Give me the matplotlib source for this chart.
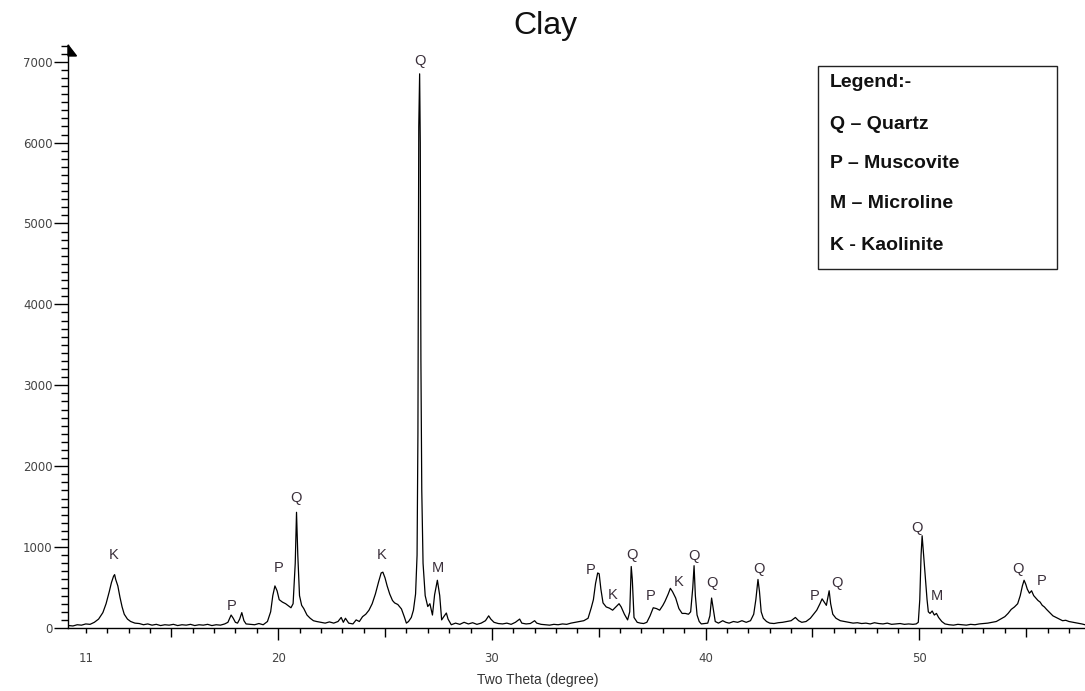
import numpy as np
import matplotlib
matplotlib.use("Agg")
import matplotlib.pyplot as plt
from matplotlib.patches import Rectangle, Polygon
from matplotlib.transforms import blended_transform_factory

plt.rcParams['font.family'] = ['Liberation Sans', 'DejaVu Sans']

# XRD pattern: 2-theta (deg), counts
two_theta = [
    10.2, 10.4, 10.6, 10.8, 11.0, 11.2, 11.4, 11.6, 11.8, 11.95, 12.1, 12.2, 12.3, 12.35, 12.4,
    12.5, 12.6, 12.7, 12.8, 12.95, 13.1, 13.3, 13.5, 13.7, 13.9, 14.1, 14.3, 14.5, 14.7, 14.9,
    15.1, 15.3, 15.5, 15.7, 15.9, 16.1, 16.3, 16.5, 16.7, 16.9, 17.1, 17.3, 17.5, 17.65, 17.8,
    17.9, 18.0, 18.1, 18.2, 18.3, 18.4, 18.5, 18.7, 18.9, 19.1, 19.3, 19.5, 19.65, 19.75, 19.85,
    19.95, 20.05, 20.2, 20.35, 20.5, 20.6, 20.7, 20.8, 20.86, 20.92, 21.0, 21.1, 21.2, 21.35, 21.5,
    21.65, 21.8, 22.0, 22.2, 22.4, 22.6, 22.8, 22.95, 23.05, 23.15, 23.3, 23.5, 23.65, 23.8, 23.95,
    24.1, 24.25, 24.4, 24.55, 24.7, 24.82, 24.9, 25.0, 25.1, 25.22, 25.35, 25.45, 25.6, 25.77, 25.9,
    26.0, 26.1, 26.23, 26.33, 26.43, 26.5, 26.54, 26.58, 26.62, 26.65, 26.68, 26.72, 26.78, 26.88, 27.0,
    27.1, 27.22, 27.32, 27.45, 27.56, 27.65, 27.75, 27.87, 27.95, 28.1, 28.3, 28.5, 28.7, 28.9, 29.1,
    29.3, 29.5, 29.7, 29.85, 29.95, 30.1, 30.3, 30.5, 30.7, 30.9, 31.1, 31.3, 31.4, 31.6, 31.8,
    32.0, 32.1, 32.3, 32.5, 32.7, 32.9, 33.1, 33.3, 33.5, 33.7, 33.9, 34.1, 34.3, 34.5, 34.65,
    34.75, 34.85, 34.95, 35.02, 35.1, 35.2, 35.35, 35.5, 35.65, 35.8, 35.95, 36.05, 36.2, 36.35, 36.45,
    36.52, 36.57, 36.65, 36.8, 36.95, 37.1, 37.25, 37.4, 37.55, 37.7, 37.85, 38.0, 38.1, 38.25, 38.35,
    38.45, 38.6, 38.75, 38.9, 39.05, 39.2, 39.3, 39.4, 39.46, 39.52, 39.6, 39.7, 39.8, 39.95, 40.1,
    40.2, 40.28, 40.35, 40.45, 40.6, 40.8, 40.95, 41.1, 41.3, 41.5, 41.7, 41.9, 42.1, 42.25, 42.35,
    42.45, 42.52, 42.6, 42.7, 42.85, 43.0, 43.2, 43.4, 43.6, 43.8, 44.0, 44.2, 44.35, 44.5, 44.7,
    44.9, 45.05, 45.2, 45.35, 45.45, 45.55, 45.65, 45.72, 45.78, 45.85, 45.95, 46.1, 46.3, 46.5, 46.7,
    46.9, 47.1, 47.3, 47.5, 47.7, 47.9, 48.1, 48.3, 48.5, 48.7, 48.9, 49.1, 49.3, 49.5, 49.7,
    49.85, 49.95, 50.02, 50.08, 50.13, 50.2, 50.28, 50.36, 50.42, 50.5, 50.6, 50.7, 50.8, 50.9, 51.05,
    51.2, 51.4, 51.6, 51.8, 52.0, 52.2, 52.4, 52.6, 52.8, 53.0, 53.2, 53.4, 53.6, 53.8, 54.0,
    54.15, 54.3, 54.45, 54.6, 54.72, 54.82, 54.9, 54.98, 55.05, 55.15, 55.25, 55.35, 55.45, 55.55, 55.65,
    55.75, 55.85, 55.95, 56.1, 56.25, 56.4, 56.55, 56.7, 56.85, 57.0, 57.2, 57.4, 57.6, 57.75,
]
counts = [
    30, 25, 40, 35, 50, 45, 70, 110, 190, 300, 450, 560, 640, 660, 600,
    520, 380, 260, 170, 110, 80, 60, 55, 40, 50, 35, 45, 30, 40, 35,
    45, 30, 40, 35, 45, 30, 40, 35, 45, 30, 40, 35, 50, 70, 160,
    120, 70, 60, 110, 190, 90, 50, 45, 40, 55, 40, 80, 200, 400, 520,
    460, 350, 320, 300, 270, 250, 300, 800, 1430, 900, 400, 280, 240, 160, 120,
    90, 80, 70, 60, 75, 60, 80, 130, 70, 120, 60, 50, 100, 80, 140,
    170, 220, 300, 420, 570, 680, 690, 620, 520, 420, 340, 310, 290, 235, 140,
    60, 80, 130, 220, 420, 900, 2400, 6200, 6850, 6000, 3300, 1700, 800, 400, 265,
    300, 160, 410, 590, 400, 100, 140, 185, 110, 40, 60, 45, 70, 50, 65,
    45, 60, 90, 150, 110, 70, 55, 50, 60, 45, 70, 110, 60, 50, 55,
    90, 60, 45, 40, 35, 45, 40, 50, 45, 60, 70, 80, 90, 120, 250,
    350, 550, 680, 670, 480, 310, 260, 245, 220, 260, 300, 260, 170, 100, 200,
    760, 600, 130, 70, 60, 55, 70, 150, 250, 240, 220, 280, 330, 420, 490,
    450, 370, 240, 180, 180, 170, 200, 500, 770, 400, 160, 80, 50, 55, 60,
    150, 370, 250, 80, 60, 90, 70, 60, 80, 70, 90, 70, 90, 170, 350,
    600, 450, 200, 120, 80, 60, 55, 65, 70, 80, 90, 130, 90, 70, 80,
    120, 170, 220, 300, 360, 320, 280, 380, 460, 300, 170, 120, 90, 80, 70,
    60, 65, 55, 60, 50, 65, 55, 50, 60, 45, 50, 55, 45, 50, 45,
    50, 70, 350, 900, 1140, 900, 630, 350, 200, 180, 210, 160, 180, 130, 80,
    50, 40, 35, 45, 40, 35, 45, 40, 50, 55, 60, 70, 80, 110, 140,
    180, 230, 260, 300, 400, 520, 590, 540, 480, 430, 460, 400, 370, 340, 320,
    280, 260, 230, 190, 150, 130, 110, 90, 95, 80, 70, 60, 50, 40,
]

# phase letters above the peaks
peak_labels = ['K', 'P', 'P', 'Q', 'K', 'Q', 'M', 'P', 'K', 'Q', 'P', 'K', 'Q', 'Q',
               'Q', 'P', 'Q', 'Q', 'M', 'Q', 'P']
label_x = [12.28, 17.83, 20.03, 20.83, 24.84, 26.62, 27.46, 34.61, 35.64, 36.53, 37.42,
           38.72, 39.47, 40.31, 42.5, 45.12, 46.15, 49.89, 50.83, 54.6, 55.73]
label_y = [900, 270, 740, 1610, 900, 7010, 740, 720, 410, 900, 400,
           570, 890, 556, 730, 400, 556, 1236, 400, 730, 580]

legend_lines = ['Legend:-', 'Q \u2013 Quartz', 'P \u2013 Muscovite',
                'M \u2013 Microline', 'K - Kaolinite']

x_tick_pos = [11, 20, 30, 40, 50]
x_tick_lab = ['11', '20', '30', '40', '50']

fig = plt.figure(figsize=(10.85, 6.91), dpi=100)
ax = fig.add_axes([0.0627, 0.0912, 0.9373, 0.8441])

ax.plot(two_theta, counts, color='black', lw=0.9)

ax.set_xlim(10.17, 57.75)
ax.set_ylim(0, 7210)

for s in ['top', 'right']:
    ax.spines[s].set_visible(False)
for s in ['left', 'bottom']:
    ax.spines[s].set_linewidth(1.0)

# y axis ticks
ax.set_yticks(np.arange(0, 7001, 1000))
ax.set_yticks(np.arange(0, 7201, 100), minor=True)
ax.tick_params(axis='y', which='major', length=10, width=1, pad=1,
               labelsize=8.5, labelcolor='#444')
ax.tick_params(axis='y', which='minor', length=5, width=1)
for t in ax.get_yticklabels():
    t.set_fontfamily('DejaVu Sans')

# x axis ticks
ax.set_xticks(x_tick_pos)
ax.set_xticklabels(x_tick_lab)
ax.set_xticks([d for d in range(12, 58) if d % 5 != 0], minor=True)
ax.tick_params(axis='x', which='major', length=8.5, width=1, pad=9,
               labelsize=8.5, labelcolor='#444')
ax.tick_params(axis='x', which='minor', length=3.6, width=1)
for t in ax.get_xticklabels():
    t.set_fontfamily('DejaVu Sans')
ax.xaxis.get_major_ticks()[0].tick1line.set_markersize(3.6)
trans = blended_transform_factory(ax.transData, ax.transAxes)
ax.vlines([15, 25, 35, 45, 55], -0.0155, 0, transform=trans, color='black',
          lw=1, clip_on=False)

for lab, lx, ly in zip(peak_labels, label_x, label_y):
    ax.text(lx, ly, lab, ha='center', va='center', fontsize=10.5, color='#3a2f3a')

# little arrow head on the top of the y axis
fig.patches.append(Polygon([(0.0627, 0.9349), (0.0705, 0.9190), (0.0627, 0.9190)],
                           closed=True, color='black', transform=fig.transFigure))

fig.text(0.503, 0.963, 'Clay', ha='center', va='center', fontsize=23, color='#111')
fig.text(0.496, 0.016, 'Two Theta (degree)', ha='center', va='center',
         fontsize=10, color='#333')

# legend box
fig.patches.append(Rectangle((0.754, 0.6107), 0.220, 0.2938, fill=False,
                             edgecolor='#222', lw=1, transform=fig.transFigure))
leg_y = [0.8813, 0.8205, 0.7641, 0.7048, 0.6454]
for txt, yy in zip(legend_lines, leg_y):
    fig.text(0.765, yy, txt, ha='left', va='center', fontsize=14,
             fontweight='bold', color='#111')

fig.savefig('out.png', dpi=100)
